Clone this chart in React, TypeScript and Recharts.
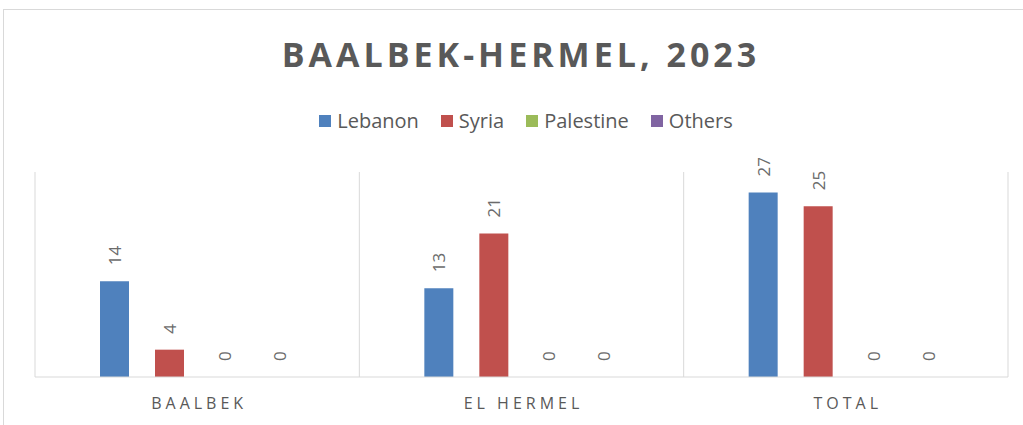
import { Bar, BarChart, CartesianGrid, LabelList, Rectangle, XAxis, YAxis } from "recharts";

const categories = ["BAALBEK", "EL HERMEL", "TOTAL"];
const lebanon = [14, 13, 27];
const syria = [4, 21, 25];
const palestine = [0, 0, 0];
const others = [0, 0, 0];

const seriesNames = ["Lebanon", "Syria", "Palestine", "Others"];
const colors = ["#4F81BD", "#C0504D", "#9BBB59", "#8064A2"];

const data = categories.map((name, i) => ({
  name,
  Lebanon: lebanon[i],
  Syria: syria[i],
  Palestine: palestine[i],
  Others: others[i],
}));

const FONT = "'Open Sans', sans-serif";

const renderValueLabel = (props: any) => {
  const { x, y, width, height, value } = props;
  const cx = x + width / 2;
  // zero bars are drawn 1px tall (minPointSize) so use the baseline
  const top = value === 0 ? y + height : y;
  const ty = top - 16;
  return (
    <text
      x={cx}
      y={ty}
      transform={`rotate(-90 ${cx} ${ty})`}
      textAnchor="start"
      dominantBaseline="central"
      fill="#6b6b6b"
      fontSize={17}
      fontFamily={FONT}
    >
      {value}
    </text>
  );
};

const renderBarShape = (props: any) =>
  props.height <= 1.5 ? <g /> : <Rectangle {...props} />;

const CategoryTick = (props: any) => {
  const { x, y, payload } = props;
  return (
    <text
      x={x + 2}
      y={y + 32}
      textAnchor="middle"
      fill="#595959"
      fontSize={16}
      fontFamily={FONT}
      style={{ letterSpacing: 4 }}
    >
      {payload.value}
    </text>
  );
};

export default function App() {
  return (
    <div
      style={{
        position: "absolute",
        left: 0,
        top: 0,
        width: 1023,
        height: 425,
        overflow: "hidden",
        background: "#fff",
      }}
    >
      <div
        style={{
          position: "absolute",
          left: 3,
          top: 9,
          width: 1040,
          height: 440,
          border: "1px solid #d9d9d9",
        }}
      />
      <div
        style={{
          position: "absolute",
          left: 0,
          top: 32,
          width: 1042,
          textAlign: "center",
          fontFamily: FONT,
          fontWeight: 700,
          fontSize: 34,
          lineHeight: "44px",
          letterSpacing: 4,
          color: "#595959",
        }}
      >
        BAALBEK-HERMEL, 2023
      </div>
      <div
        style={{
          position: "absolute",
          left: 0,
          top: 107,
          width: 1052,
          display: "flex",
          justifyContent: "center",
          gap: 22,
          fontFamily: FONT,
          fontSize: 20,
          lineHeight: "28px",
          color: "#595959",
        }}
      >
        {seriesNames.map((s, i) => (
          <div key={s} style={{ display: "flex", alignItems: "center" }}>
            <span
              style={{
                width: 12,
                height: 12,
                background: colors[i],
                marginRight: 6,
                display: "inline-block",
              }}
            />
            <span>{s}</span>
          </div>
        ))}
      </div>
      <BarChart
        width={1023}
        height={425}
        data={data}
        margin={{ top: 172, right: 15, left: 35, bottom: 18 }}
        barSize={29}
        barGap={26}
        style={{ position: "absolute", left: 0, top: 0 }}
      >
        <CartesianGrid
          horizontal={false}
          stroke="#d9d9d9"
          verticalCoordinatesGenerator={({ offset }: any) =>
            [0, 1, 2, 3].map((i) => offset.left + (offset.width * i) / 3)
          }
        />
        <XAxis
          dataKey="name"
          height={30}
          axisLine={{ stroke: "#d9d9d9" }}
          tickLine={false}
          tickSize={0}
          tickMargin={0}
          tick={<CategoryTick />}
          interval={0}
        />
        <YAxis hide domain={[0, 30]} />
        {seriesNames.map((s, i) => (
          <Bar
            key={s}
            dataKey={s}
            fill={colors[i]}
            minPointSize={1}
            shape={renderBarShape}
            isAnimationActive={false}
          >
            <LabelList dataKey={s} content={renderValueLabel} />
          </Bar>
        ))}
      </BarChart>
    </div>
  );
}
